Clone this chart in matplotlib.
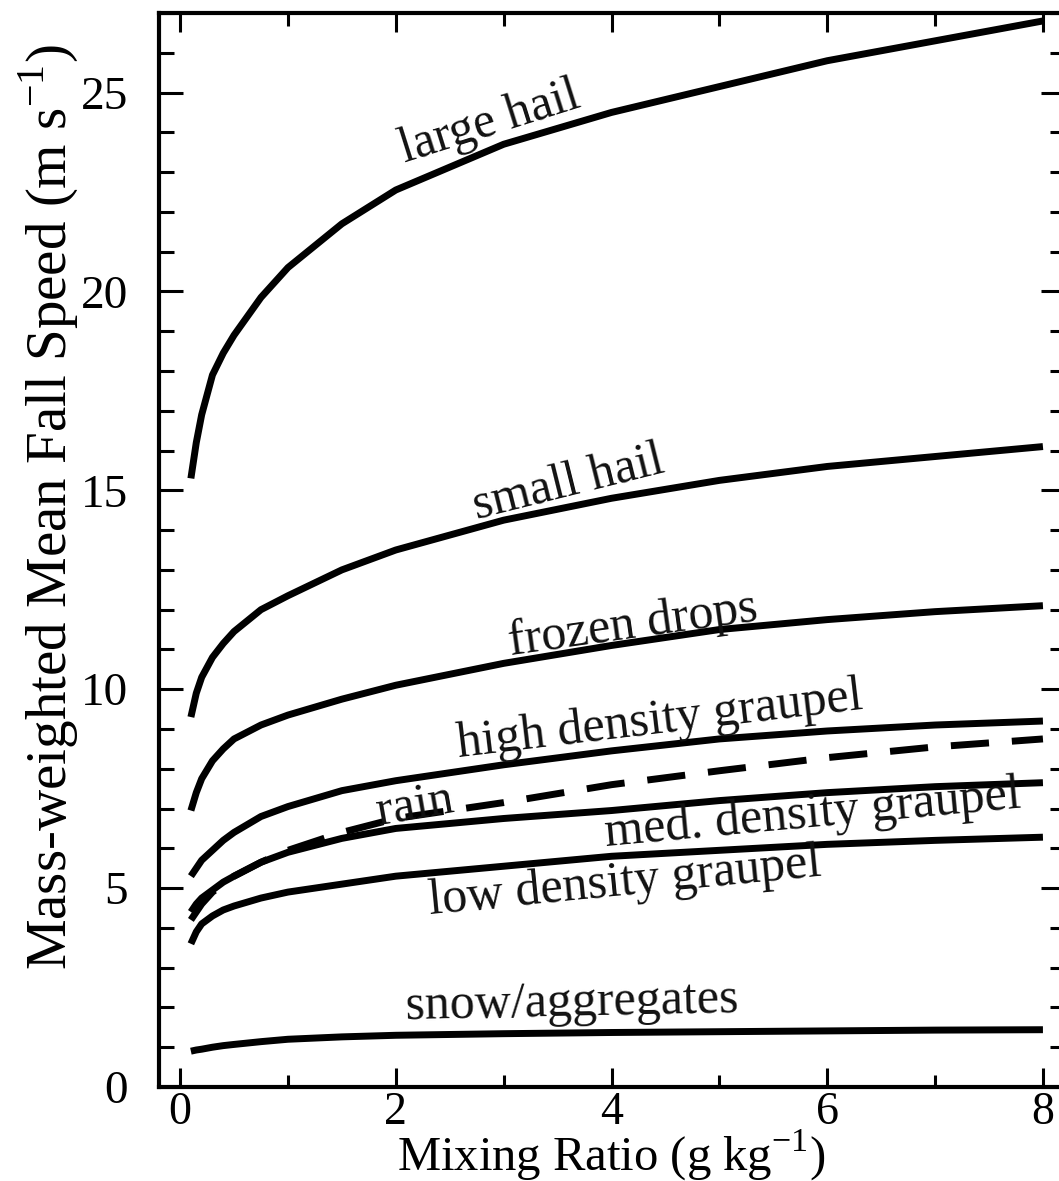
import matplotlib
matplotlib.use("Agg")
import matplotlib.pyplot as plt
from matplotlib.ticker import MultipleLocator

plt.rcParams['font.family'] = ['Liberation Serif', 'DejaVu Serif']
plt.rcParams['mathtext.fontset'] = 'custom'
plt.rcParams['mathtext.rm'] = 'Liberation Serif'

# Mixing ratio (g/kg)
mixing_ratio = [0.1, 0.15, 0.2, 0.3, 0.4, 0.5, 0.75, 1, 1.5, 2, 3, 4, 5, 6, 7, 8]

large_hail   = [15.3, 16.2, 16.9, 17.9, 18.45, 18.9, 19.85, 20.6, 21.7, 22.55, 23.7, 24.5, 25.15, 25.8, 26.3, 26.8]
small_hail   = [9.3, 9.9, 10.3, 10.8, 11.15, 11.45, 12.0, 12.35, 13.0, 13.5, 14.25, 14.8, 15.25, 15.6, 15.85, 16.1]
frozen_drops = [6.95, 7.4, 7.75, 8.2, 8.5, 8.75, 9.1, 9.35, 9.75, 10.1, 10.65, 11.1, 11.5, 11.75, 11.95, 12.1]
high_graupel = [5.3, 5.5, 5.7, 5.95, 6.2, 6.4, 6.8, 7.05, 7.45, 7.7, 8.1, 8.45, 8.75, 8.95, 9.1, 9.2]
rain         = [4.2, 4.4, 4.6, 4.9, 5.1, 5.3, 5.65, 5.95, 6.4, 6.75, 7.15, 7.6, 7.95, 8.28, 8.55, 8.75]
med_graupel  = [4.4, 4.6, 4.75, 4.95, 5.15, 5.3, 5.65, 5.9, 6.25, 6.5, 6.75, 6.95, 7.2, 7.4, 7.55, 7.65]
low_graupel  = [3.6, 3.9, 4.1, 4.3, 4.45, 4.55, 4.75, 4.9, 5.1, 5.3, 5.55, 5.8, 5.95, 6.1, 6.2, 6.28]
snow         = [0.9, 0.93, 0.95, 1.0, 1.04, 1.07, 1.14, 1.2, 1.26, 1.3, 1.34, 1.37, 1.39, 1.41, 1.43, 1.44]

labels = ["large hail", "small hail", "frozen drops", "high density graupel",
          "rain", "med. density graupel", "low density graupel", "snow/aggregates"]
label_x = [2.87, 3.6, 4.2, 4.45, 2.18, 5.87, 4.12, 3.63]
label_y = [24.25, 15.15, 11.6, 9.2, 7.06, 6.85, 5.15, 2.1]
label_rot = [17.5, 14, 8, 6.8, 10, 5.3, 5.6, 1.2]

fig = plt.figure(figsize=(10.59, 11.81), dpi=100)
ax = fig.add_axes([0.1497, 0.0796, 0.8555, 0.9094])

series = [large_hail, small_hail, frozen_drops, high_graupel, rain, med_graupel, low_graupel, snow]
for name, ys in zip(labels, series):
    if name == "rain":
        ax.plot(mixing_ratio, ys, color='black', lw=5, dashes=(5.5, 3.3),
                solid_capstyle='butt', dash_capstyle='butt')
    else:
        ax.plot(mixing_ratio, ys, color='black', lw=5, solid_capstyle='butt')

for t, x, y, r in zip(labels, label_x, label_y, label_rot):
    ax.text(x, y, t, fontsize=36, rotation=r, ha='center', va='center',
            rotation_mode='anchor', color='#111111')

ax.set_xlim(-0.2, 8.2)
ax.set_ylim(0, 27)
ax.xaxis.set_major_locator(MultipleLocator(2))
ax.xaxis.set_minor_locator(MultipleLocator(1))
ax.yaxis.set_major_locator(MultipleLocator(5))
ax.yaxis.set_minor_locator(MultipleLocator(1))

ax.tick_params(axis='both', which='both', direction='in', top=True, right=True, width=2.2)
ax.tick_params(axis='x', which='major', length=14, pad=3, labelsize=33)
ax.tick_params(axis='x', which='minor', length=9)
ax.tick_params(axis='y', which='major', length=17, pad=22, labelsize=34)
ax.tick_params(axis='y', which='minor', length=11)
for s in ax.spines.values():
    s.set_linewidth(3)

ax.set_xlabel(r"Mixing Ratio (g kg$^{\mathregular{-1}}$)", fontsize=35)
ax.xaxis.label.set_va('center')
ax.xaxis.set_label_coords(0.5, -0.0635)
ax.set_ylabel(r"Mass-weighted Mean Fall Speed (m s$^{\mathregular{-1}}$)", fontsize=41)
ax.yaxis.label.set_va('center')
ax.yaxis.set_label_coords(-0.122, 0.5395)

fig.savefig("out.png", dpi=100)
